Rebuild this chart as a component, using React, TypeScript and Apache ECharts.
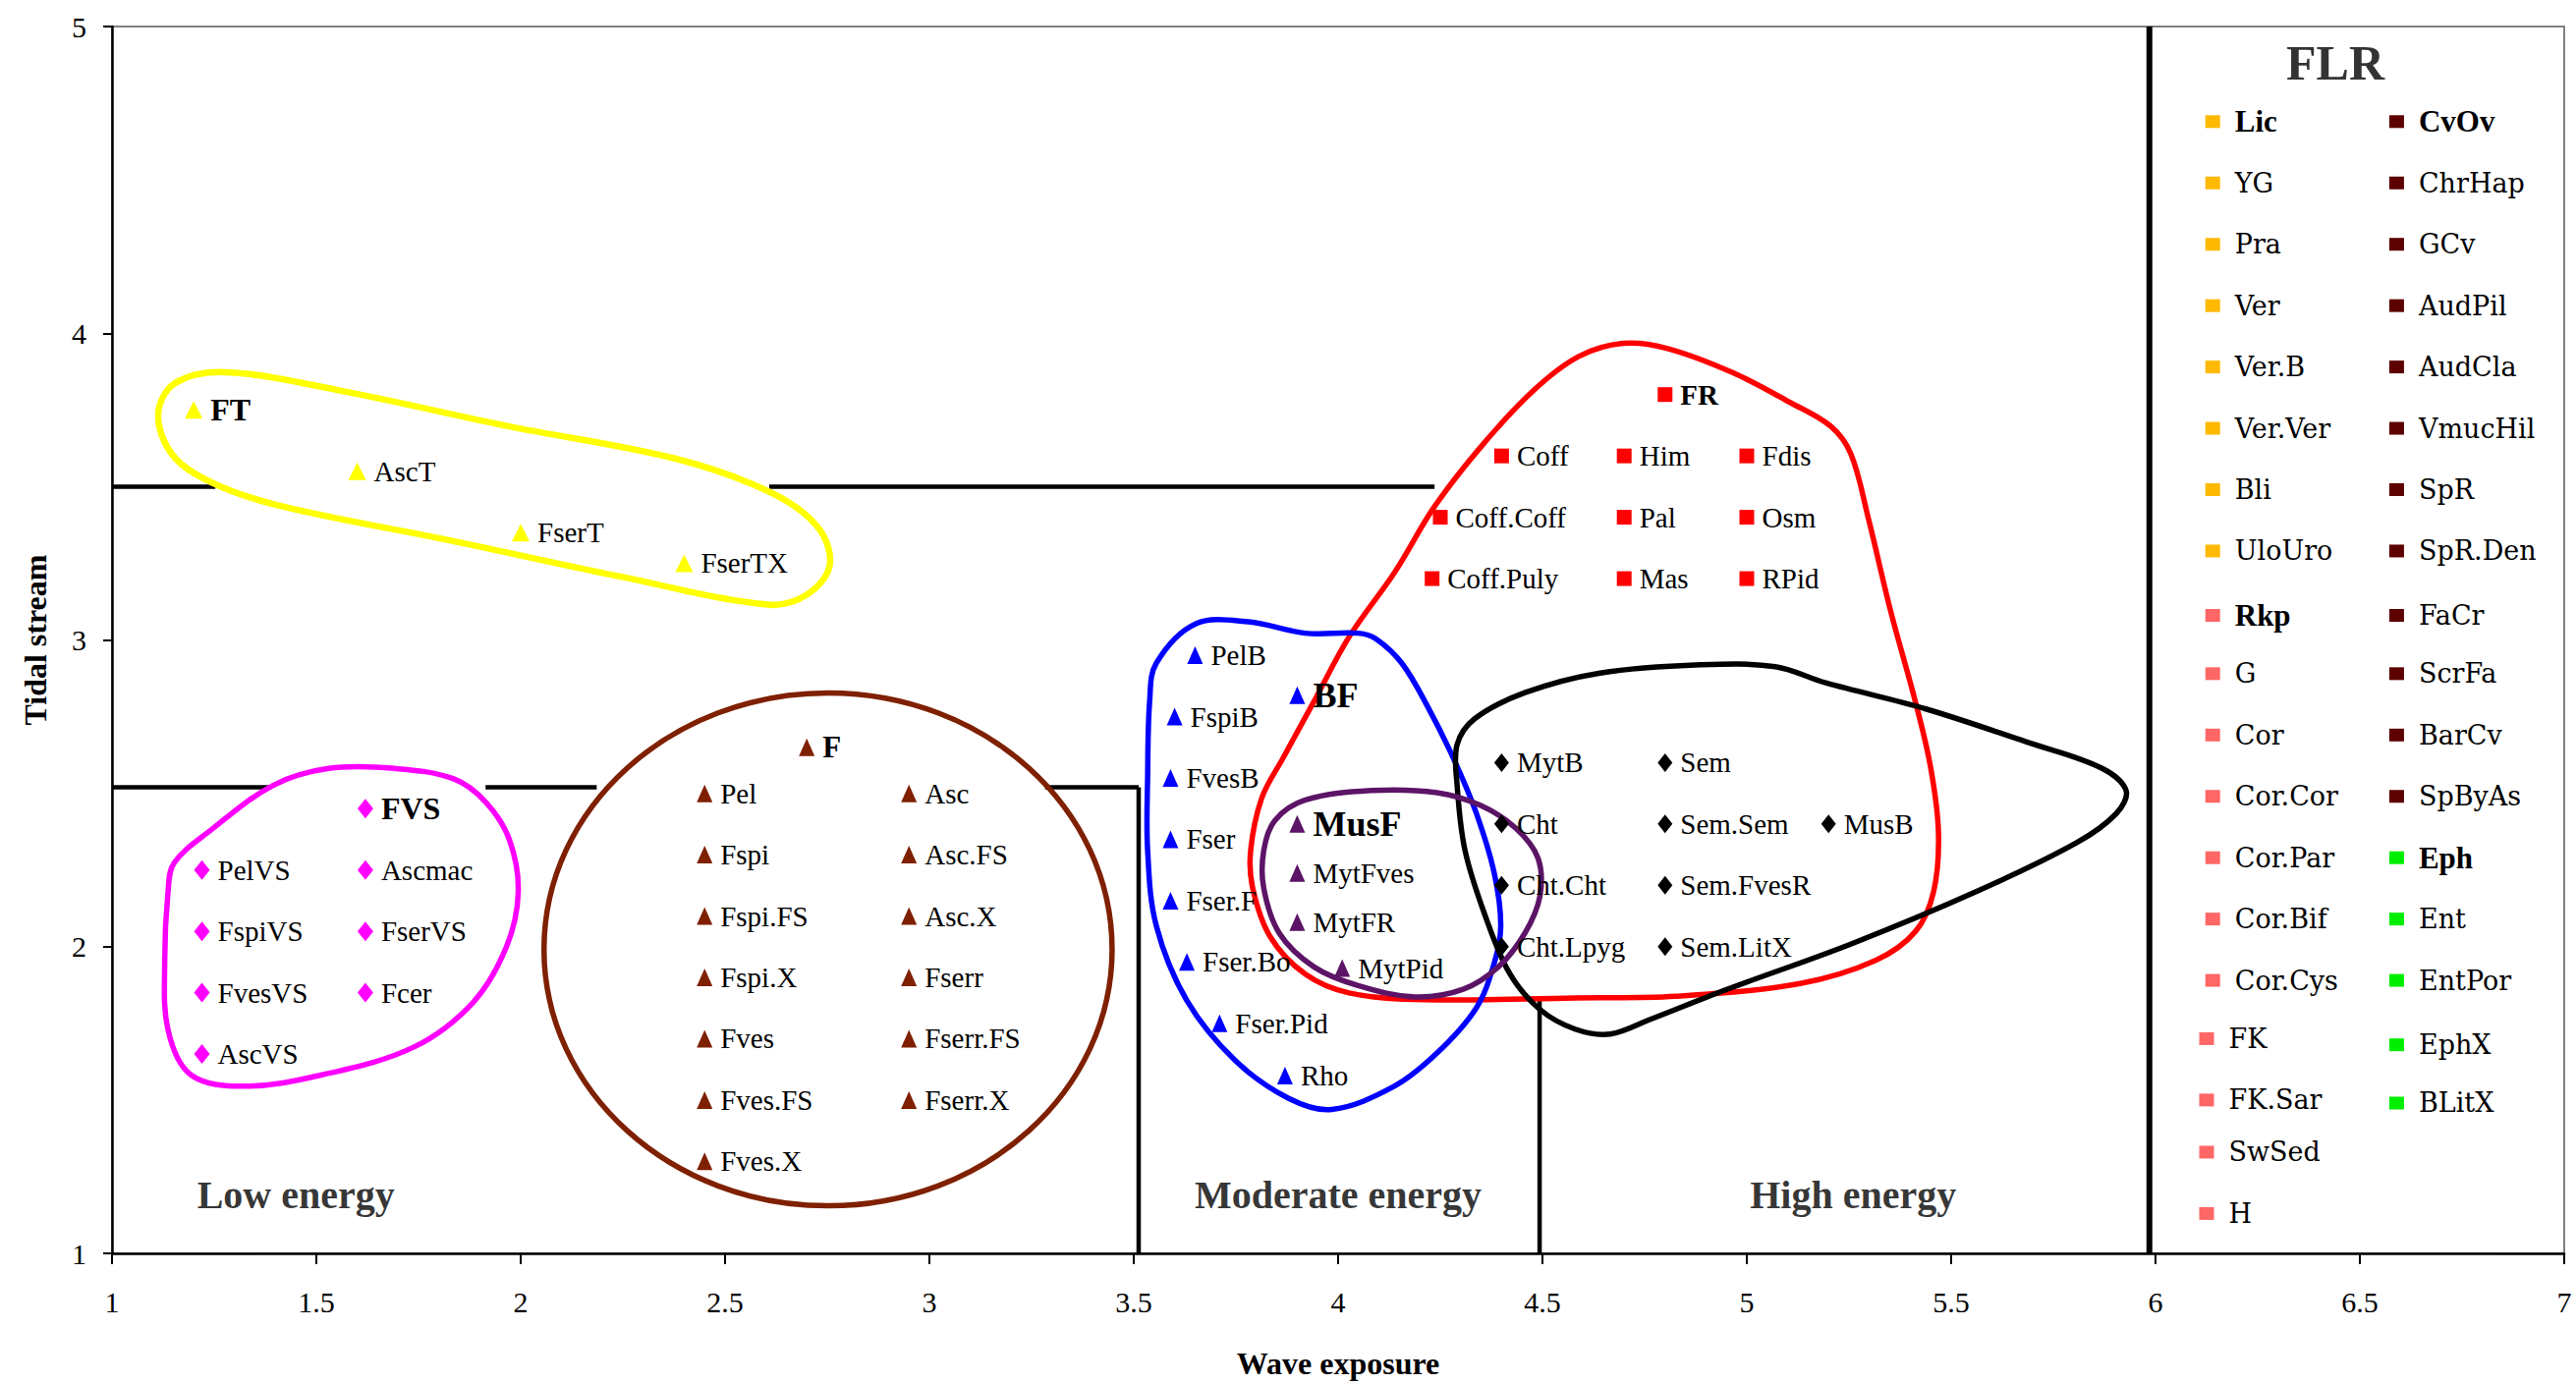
import React, { useEffect, useRef } from "react";
import * as echarts from "echarts";

type Pt = [string, number, number];

// ---- data points (name, wave exposure, tidal stream) ----
const FT_PTS: Pt[] = [["FT", 1.2, 3.75], ["AscT", 1.6, 3.55], ["FserT", 2.0, 3.35], ["FserTX", 2.4, 3.25]];
const FVS_PTS: Pt[] = [
  ["FVS", 1.62, 2.45], ["PelVS", 1.22, 2.25], ["Ascmac", 1.62, 2.25], ["FspiVS", 1.22, 2.05],
  ["FserVS", 1.62, 2.05], ["FvesVS", 1.22, 1.85], ["Fcer", 1.62, 1.85], ["AscVS", 1.22, 1.65],
];
const F_PTS: Pt[] = [
  ["F", 2.7, 2.65], ["Pel", 2.45, 2.5], ["Asc", 2.95, 2.5], ["Fspi", 2.45, 2.3], ["Asc.FS", 2.95, 2.3],
  ["Fspi.FS", 2.45, 2.1], ["Asc.X", 2.95, 2.1], ["Fspi.X", 2.45, 1.9], ["Fserr", 2.95, 1.9],
  ["Fves", 2.45, 1.7], ["Fserr.FS", 2.95, 1.7], ["Fves.FS", 2.45, 1.5], ["Fserr.X", 2.95, 1.5], ["Fves.X", 2.45, 1.3],
];
const BF_PTS: Pt[] = [
  ["BF", 3.9, 2.82], ["PelB", 3.65, 2.95], ["FspiB", 3.6, 2.75], ["FvesB", 3.59, 2.55], ["Fser", 3.59, 2.35],
  ["Fser.F", 3.59, 2.15], ["Fser.Bo", 3.63, 1.95], ["Fser.Pid", 3.71, 1.75], ["Rho", 3.87, 1.58],
];
const MUSF_PTS: Pt[] = [["MusF", 3.9, 2.4], ["MytFves", 3.9, 2.24], ["MytFR", 3.9, 2.08], ["MytPid", 4.01, 1.93]];
const FR_PTS: Pt[] = [
  ["FR", 4.8, 3.8], ["Coff", 4.4, 3.6], ["Him", 4.7, 3.6], ["Fdis", 5.0, 3.6], ["Coff.Coff", 4.25, 3.4],
  ["Pal", 4.7, 3.4], ["Osm", 5.0, 3.4], ["Coff.Puly", 4.23, 3.2], ["Mas", 4.7, 3.2], ["RPid", 5.0, 3.2],
];
const HIGH_PTS: Pt[] = [
  ["MytB", 4.4, 2.6], ["Sem", 4.8, 2.6], ["Cht", 4.4, 2.4], ["Sem.Sem", 4.8, 2.4], ["MusB", 5.2, 2.4],
  ["Cht.Cht", 4.4, 2.2], ["Sem.FvesR", 4.8, 2.2], ["Cht.Lpyg", 4.4, 2.0], ["Sem.LitX", 4.8, 2.0],
];
const GROUP_HEADS = ["FT", "FVS", "F", "BF", "MusF", "FR"];

// ---- FLR panel entries ----
const LEG_LIC: Pt[] = [
  ["Lic", 6.14, 4.69], ["YG", 6.14, 4.49], ["Pra", 6.14, 4.29], ["Ver", 6.14, 4.09],
  ["Ver.B", 6.14, 3.89], ["Ver.Ver", 6.14, 3.69], ["Bli", 6.14, 3.49], ["UloUro", 6.14, 3.29],
];
const LEG_RKP: Pt[] = [
  ["Rkp", 6.14, 3.08], ["G", 6.14, 2.89], ["Cor", 6.14, 2.69], ["Cor.Cor", 6.14, 2.49], ["Cor.Par", 6.14, 2.29],
  ["Cor.Bif", 6.14, 2.09], ["Cor.Cys", 6.14, 1.89], ["FK", 6.125, 1.7], ["FK.Sar", 6.125, 1.5],
  ["SwSed", 6.125, 1.33], ["H", 6.125, 1.13],
];
const LEG_CVOV: Pt[] = [
  ["CvOv", 6.59, 4.69], ["ChrHap", 6.59, 4.49], ["GCv", 6.59, 4.29], ["AudPil", 6.59, 4.09],
  ["AudCla", 6.59, 3.89], ["VmucHil", 6.59, 3.69], ["SpR", 6.59, 3.49], ["SpR.Den", 6.59, 3.29],
  ["FaCr", 6.59, 3.08], ["ScrFa", 6.59, 2.89], ["BarCv", 6.59, 2.69], ["SpByAs", 6.59, 2.49],
];
const LEG_EPH: Pt[] = [["Eph", 6.59, 2.29], ["Ent", 6.59, 2.09], ["EntPor", 6.59, 1.89], ["EphX", 6.59, 1.68], ["BLitX", 6.59, 1.49]];
const LEG_HEADS = ["Lic", "Rkp", "CvOv", "Eph"];
const FLR_TITLE: Pt[] = [["FLR", 6.44, 4.88]];

const REGION_LABELS: Pt[] = [["Low energy", 1.45, 1.19], ["Moderate energy", 4.0, 1.19], ["High energy", 5.26, 1.19]];

// ---- divider segments [x1, y1, x2, y2] ----
const DIVIDERS: [number, number, number, number][] = [
  [1, 3.5, 1.253, 3.5], [2.608, 3.5, 4.236, 3.5],
  [1, 2.52, 1.389, 2.52], [1.914, 2.52, 2.186, 2.52], [3.283, 2.52, 3.512, 2.52],
  [3.512, 2.52, 3.512, 1], [4.493, 1.83, 4.493, 1],
];
const PANEL_DIVIDER: [number, number, number, number] = [5.985, 5, 5.985, 1];

// ---- group outlines (control points) ----
const FT_OUTLINE = [
  [1.113, 3.734], [1.153, 3.836], [1.277, 3.873], [1.555, 3.814], [1.969, 3.697], [2.382, 3.59],
  [2.616, 3.478], [2.728, 3.366], [2.756, 3.243], [2.7, 3.147], [2.604, 3.115], [2.246, 3.206],
  [1.832, 3.323], [1.418, 3.435], [1.249, 3.51], [1.15, 3.6],
];
const FVS_OUTLINE = [
  [1.152, 2.273], [1.241, 2.379], [1.393, 2.525], [1.53, 2.581], [1.691, 2.581], [1.836, 2.547],
  [1.916, 2.469], [1.973, 2.346], [1.994, 2.177], [1.965, 1.999], [1.884, 1.819], [1.739, 1.673],
  [1.514, 1.582], [1.322, 1.545], [1.193, 1.582], [1.137, 1.729], [1.129, 1.956], [1.137, 2.177],
];
const F_ELLIPSE = [2.752, 1.991, 0.695, 0.836];
const BF_OUTLINE = [
  [3.555, 2.924], [3.652, 3.053], [3.781, 3.059], [3.92, 3.022], [4.049, 3.022], [4.092, 3.004],
  [4.156, 2.924], [4.221, 2.778], [4.285, 2.606], [4.338, 2.436], [4.382, 2.24], [4.398, 2.069],
  [4.382, 1.946], [4.338, 1.8], [4.242, 1.653], [4.135, 1.543], [3.984, 1.469], [3.878, 1.506],
  [3.748, 1.629], [3.63, 1.824], [3.555, 2.069], [3.534, 2.313], [3.534, 2.557], [3.539, 2.802],
];
const MUSF_OUTLINE = [
  [3.845, 2.411], [3.92, 2.478], [4.081, 2.509], [4.242, 2.502], [4.349, 2.46], [4.435, 2.386],
  [4.489, 2.289], [4.494, 2.166], [4.457, 2.044], [4.392, 1.934], [4.306, 1.861], [4.188, 1.836],
  [4.049, 1.873], [3.941, 1.934], [3.856, 2.044], [3.818, 2.191], [3.818, 2.313],
];
const FR_OUTLINE = [
  [3.786, 2.313], [3.813, 2.484], [3.867, 2.619], [3.942, 2.802], [4.027, 3.01], [4.139, 3.222],
  [4.236, 3.435], [4.354, 3.637], [4.482, 3.818], [4.59, 3.925], [4.697, 3.967], [4.804, 3.951],
  [4.965, 3.872], [5.105, 3.775], [5.206, 3.696], [5.255, 3.605], [5.298, 3.393], [5.352, 3.094],
  [5.413, 2.796], [5.45, 2.583], [5.469, 2.37], [5.457, 2.179], [5.413, 2.05], [5.315, 1.955],
  [5.131, 1.88], [4.825, 1.838], [4.58, 1.833], [4.212, 1.827], [4.027, 1.849], [3.92, 1.91],
  [3.834, 2.032], [3.791, 2.191],
];
const HIGH_OUTLINE = [
  [4.291, 2.658], [4.334, 2.743], [4.457, 2.828], [4.641, 2.892], [4.886, 2.919], [5.07, 2.913],
  [5.193, 2.86], [5.438, 2.775], [5.683, 2.668], [5.867, 2.583], [5.928, 2.509], [5.904, 2.434],
  [5.806, 2.338], [5.561, 2.179], [5.254, 2.008], [4.948, 1.859], [4.764, 1.763], [4.666, 1.715],
  [4.58, 1.731], [4.494, 1.795], [4.42, 1.912], [4.359, 2.104], [4.31, 2.317], [4.291, 2.53],
];

const SERIF = "'Liberation Serif', 'Times New Roman', serif";
const WIDE_SERIF = "'DejaVu Serif', serif";

const YELLOW = "#FFFF00";
const MAGENTA = "#FF00FF";
const BROWN = "#7F2000";
const BLUE = "#0000FF";
const PURPLE = "#5C1466";
const RED = "#FF0000";

const HEAD_SIZE: Record<string, number> = { FT: 32, FVS: 32, F: 31, BF: 36, MusF: 36, FR: 29 };

function pointSeries(pts: Pt[], symbol: string, color: string, size: number | number[]) {
  return {
    type: "scatter",
    symbol,
    symbolSize: size,
    itemStyle: { color, opacity: 1 },
    z: 5,
    label: {
      show: true, position: "right", distance: 8, formatter: "{b}",
      color: "#000", fontFamily: SERIF, fontSize: 29,
    },
    data: pts.map(([n, x, y]) => ({
      name: n,
      value: [x, y],
      label: GROUP_HEADS.includes(n) ? { fontWeight: "bold", fontSize: HEAD_SIZE[n] } : undefined,
    })),
  };
}

function legendSeries(pts: Pt[], color: string) {
  return {
    type: "scatter",
    symbol: "rect",
    symbolSize: [15, 13],
    itemStyle: { color, opacity: 1 },
    z: 5,
    label: {
      show: true, position: "right", distance: 15, formatter: "{b}",
      color: "#000", fontFamily: WIDE_SERIF, fontSize: 27,
    },
    data: pts.map(([n, x, y]) => ({
      name: n,
      value: [x, y],
      label: LEG_HEADS.includes(n) ? { fontWeight: "bold", fontFamily: SERIF, fontSize: 31 } : undefined,
    })),
  };
}

function textSeries(pts: Pt[], fontSize: number, fontFamily: string) {
  return {
    type: "scatter",
    symbolSize: 0,
    z: 6,
    silent: true,
    label: {
      show: true, position: "inside", formatter: "{b}",
      color: "#000", fontFamily, fontSize, fontWeight: "bold",
    },
    data: pts.map(([n, x, y]) => ({ name: n, value: [x, y] })),
  };
}

function outlineSeries(pts: number[][], color: string, width: number) {
  return {
    type: "custom",
    silent: true,
    z: 3,
    clip: false,
    encode: { x: 0, y: 1 },
    data: pts,
    renderItem: (params: any, api: any) => {
      if (params.dataIndex !== 0) return null;
      return {
        type: "polygon",
        shape: { points: pts.map((p) => api.coord(p)), smooth: 0.35 },
        style: { fill: "none", stroke: color, lineWidth: width },
      };
    },
  };
}

function segmentSeries(seg: [number, number, number, number], width: number) {
  return {
    type: "line",
    silent: true,
    z: 2,
    symbol: "none",
    lineStyle: { color: "#000", width },
    data: [[seg[0], seg[1]], [seg[2], seg[3]]],
  };
}

export default function App() {
  const ref = useRef<HTMLDivElement>(null);
  useEffect(() => {
    if (!ref.current) return;
    const chart = echarts.init(ref.current, undefined, { renderer: "svg" });
    const option: any = {
      animation: false,
      backgroundColor: "#fff",
      grid: { left: 114, right: 12, top: 27, bottom: 130, show: true, borderColor: "#808080", borderWidth: 2 },
      xAxis: {
        type: "value", min: 1, max: 7, interval: 0.5,
        axisLine: { show: true, lineStyle: { color: "#000", width: 2.5 } },
        axisTick: { show: true, length: 11, lineStyle: { color: "#000", width: 2 } },
        axisLabel: { margin: 34, fontSize: 30, fontFamily: SERIF, color: "#000" },
        splitLine: { show: false },
        name: "Wave exposure", nameLocation: "middle", nameGap: 96,
        nameTextStyle: { fontWeight: "bold", fontSize: 32, fontFamily: SERIF, color: "#000" },
      },
      yAxis: {
        type: "value", min: 1, max: 5, interval: 1,
        axisLine: { show: true, lineStyle: { color: "#000", width: 2.5 } },
        axisTick: { show: true, length: 9, lineStyle: { color: "#000", width: 2 } },
        axisLabel: { margin: 26, fontSize: 30, fontFamily: SERIF, color: "#000" },
        splitLine: { show: false },
        name: "Tidal stream", nameLocation: "middle", nameGap: 62,
        nameTextStyle: { fontWeight: "bold", fontSize: 32, fontFamily: SERIF, color: "#000" },
      },
      series: [
        ...DIVIDERS.map((s) => segmentSeries(s, 4.5)),
        segmentSeries(PANEL_DIVIDER, 6),
        outlineSeries(FT_OUTLINE, YELLOW, 6.5),
        outlineSeries(FVS_OUTLINE, MAGENTA, 5.5),
        {
          type: "custom", silent: true, z: 3, clip: false,
          encode: { x: 0, y: 1 },
          data: [F_ELLIPSE],
          renderItem: (params: any, api: any) => {
            const c = api.coord([api.value(0), api.value(1)]);
            const s = api.size([api.value(2), api.value(3)]);
            return {
              type: "ellipse",
              shape: { cx: c[0], cy: c[1], rx: s[0], ry: s[1] },
              style: { fill: "none", stroke: BROWN, lineWidth: 5.5 },
            };
          },
        },
        outlineSeries(FR_OUTLINE, RED, 5.5),
        outlineSeries(BF_OUTLINE, BLUE, 5.5),
        outlineSeries(HIGH_OUTLINE, "#000", 5.5),
        outlineSeries(MUSF_OUTLINE, PURPLE, 5.5),
        pointSeries(FT_PTS, "triangle", YELLOW, [18, 18]),
        pointSeries(FVS_PTS, "diamond", MAGENTA, [16, 20]),
        pointSeries(F_PTS, "triangle", BROWN, [16, 18]),
        pointSeries(BF_PTS, "triangle", BLUE, [16, 18]),
        pointSeries(MUSF_PTS, "triangle", PURPLE, [16, 18]),
        pointSeries(FR_PTS, "rect", RED, [15, 15]),
        pointSeries(HIGH_PTS, "diamond", "#000", [15, 19]),
        legendSeries(LEG_LIC, "#FFB900"),
        legendSeries(LEG_RKP, "#FF6666"),
        legendSeries(LEG_CVOV, "#5C0000"),
        legendSeries(LEG_EPH, "#00EE00"),
        textSeries(REGION_LABELS, 40, SERIF),
        textSeries(FLR_TITLE, 50, SERIF),
      ],
    };
    chart.setOption(option);
    return () => chart.dispose();
  }, []);
  return (
    <div
      ref={ref}
      style={{ position: "fixed", left: 0, top: 0, width: 2622, height: 1409, background: "#fff" }}
    />
  );
}
